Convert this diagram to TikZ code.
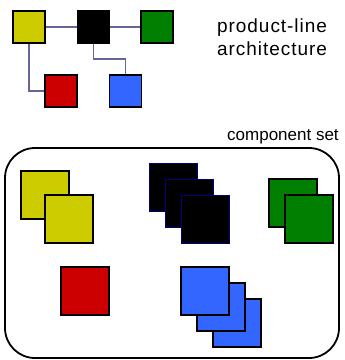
\documentclass[tikz,border=0pt]{standalone}
\usepackage{fontspec}
\setmainfont{Liberation Sans}
\usetikzlibrary{backgrounds}
\begin{document}
\begin{tikzpicture}[x=1pt,y=-1pt,
  small/.style={draw=black,line width=1.6pt,minimum size=32pt,inner sep=0pt,outer sep=0pt},
  comp/.style={draw=black,line width=1.5pt,minimum size=48pt,inner sep=0pt,outer sep=0pt},
  wire/.style={draw=wirec,line width=1.8pt},
  label/.style={inner sep=0pt,anchor=base west,align=left}]
\definecolor{yel}{HTML}{CCCC00}
\definecolor{grn}{HTML}{007F00}
\definecolor{rd}{HTML}{CC0000}
\definecolor{blu}{HTML}{3366FF}
\definecolor{navy}{HTML}{000080}
\definecolor{wirec}{HTML}{666699}
\useasboundingbox (0,0) rectangle (345,360);

% product-line architecture
\node[small,fill=yel] (ya) at (29,27) {};
\node[small,fill=black] (ka) at (93.5,27) {};
\node[small,fill=grn] (ga) at (157,27) {};
\node[small,fill=rd] (ra) at (61,91) {};
\node[small,fill=blu] (ba) at (125.5,91) {};
\begin{scope}[on background layer]
  \draw[wire] (ya) -- (ka);
  \draw[wire] (ka) -- (ga);
  \draw[wire] (ya.center) |- (ra.center);
  \draw[wire] (ka.center) |- (125.5,59) coordinate (bend) -| (ba.center);
\end{scope}
\node[label,font=\fontsize{19}{23}\selectfont\addfontfeature{LetterSpace=5}] (plt) at (217,32) {product-line};
\node[label,font=\fontsize{19}{23}\selectfont\addfontfeature{LetterSpace=5}] (plt2) at (217,55) {architecture};

% component set container
\node[label,font=\fontsize{17}{20}\selectfont] (cst) at (227,140) {component set};
\draw[line width=1.8pt,rounded corners=30pt] (5,148) rectangle (339,358);

% components
\node[comp,fill=yel] (y1) at (45,195) {};
\node[comp,fill=yel] (y2) at (69,219) {};
\node[comp,fill=black,draw=navy] (k1) at (173.5,187.5) {};
\node[comp,fill=black,draw=navy] (k2) at (189.5,203.5) {};
\node[comp,fill=black,draw=navy] (k3) at (205.5,219.5) {};
\node[comp,fill=grn] (g1) at (293,203) {};
\node[comp,fill=grn] (g2) at (309,219) {};
\node[comp,fill=rd] (r1) at (85,291) {};
\node[comp,fill=blu] (b3) at (237,323) {};
\node[comp,fill=blu] (b2) at (221,307) {};
\node[comp,fill=blu] (b1) at (205,291) {};
\end{tikzpicture}
\end{document}
